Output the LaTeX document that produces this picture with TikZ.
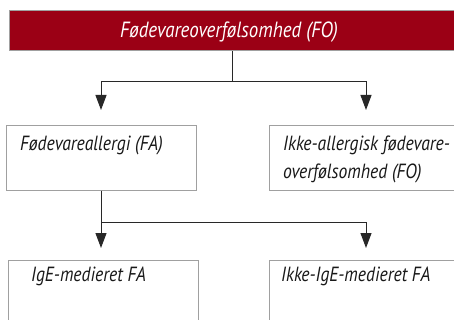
\documentclass[tikz,border=0pt]{standalone}
\usepackage{fontspec}
\setmainfont{PT Sans}[FakeStretch=0.86]
\usetikzlibrary{arrows.meta}
\definecolor{barred}{RGB}{155,0,21}
\definecolor{boxline}{RGB}{160,160,160}
\definecolor{linkline}{RGB}{40,40,40}
\tikzset{
  x=1pt, y=-1pt,
  catbox/.style={draw=boxline, line width=1.1pt, fill=white},
  label/.style={anchor=north west, inner sep=0pt, align=left,
    font=\fontsize{20.5}{28}\selectfont\itshape, text=black!90},
  link/.style={draw=linkline, line width=1pt},
  arrowlink/.style={link, -{Triangle[length=15pt, width=11pt]}}
}
\begin{document}
\begin{tikzpicture}
\useasboundingbox (0,0) rectangle (454,320);
% header bar
\node[draw=boxline, line width=1pt, fill=barred, minimum width=460pt, minimum height=40pt,
  anchor=north west, inner sep=0pt] (top) at (8.5,10.5) {};
\node[font=\fontsize{22}{26}\selectfont\itshape, text=white, anchor=base] (toptxt) at (229,38) {Fødevareoverfølsomhed (FO)};
% second row
\draw[catbox] (6.5,125.5) rectangle (196.5,190.5);
\coordinate (fa) at (101,125);
\coordinate (fabot) at (101,190.5);
\node[label] (fatxt) at (20,136) {Fødevareallergi (FA)};
\draw[catbox] (269.5,125.5) rectangle (470,190.5);
\coordinate (nfa) at (366,125);
\node[label] (nfatxt) at (283,136) {Ikke-allergisk fødevare-\\overfølsomhed (FO)};
% third row
\draw[catbox] (8.5,260.5) rectangle (198.5,330);
\coordinate (ige) at (101,260);
\node[label] (igetxt) at (31,267) {IgE-medieret FA};
\draw[catbox] (269.5,260.5) rectangle (470,330);
\coordinate (nige) at (366,260);
\node[label] (nigetxt) at (281,267) {Ikke-IgE-medieret FA};
% connectors
\coordinate (split1) at (232,82);
\draw[link] (top.south -| split1) -- (split1);
\draw[arrowlink] (split1) -| ([yshift=15pt]fa);
\draw[arrowlink] (split1) -| ([yshift=15pt]nfa);
\coordinate (split2) at (101,222);
\draw[link] (fabot) -- (split2);
\draw[arrowlink] (split2) -- ([yshift=12pt]ige);
\draw[arrowlink] (split2) -| ([yshift=12pt]nige);
\end{tikzpicture}
\end{document}
